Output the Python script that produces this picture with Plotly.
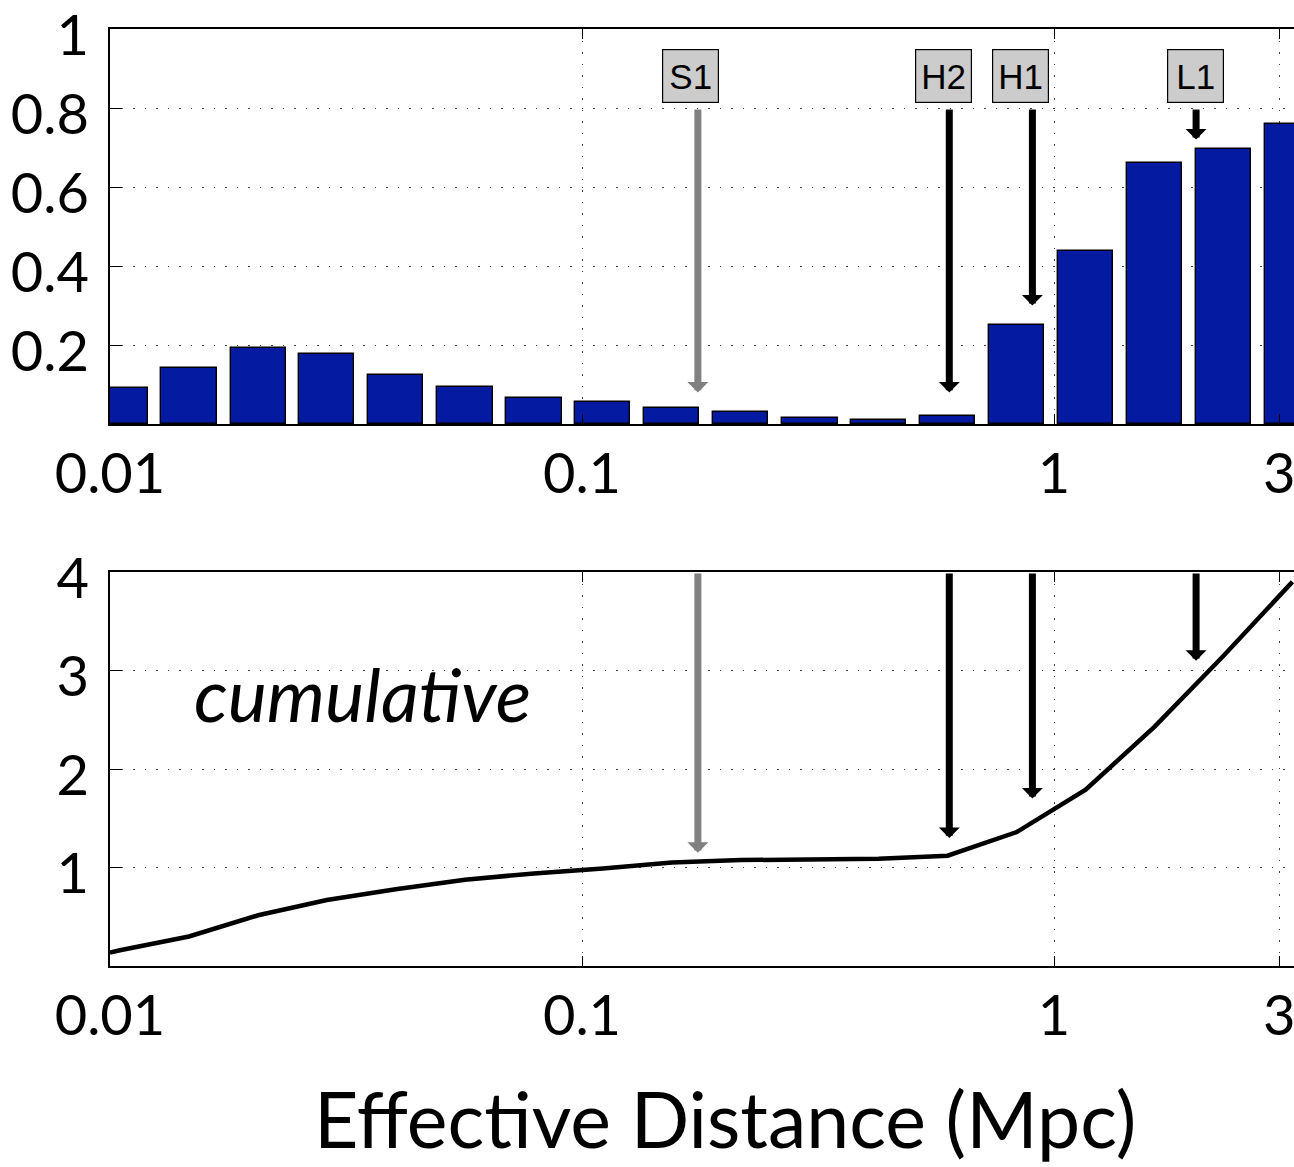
import numpy as np
import plotly.graph_objects as go

# ---------------- data ----------------
bin_center_mpc = [0.0105, 0.0147, 0.0206, 0.0288, 0.0403, 0.0565, 0.0791, 0.1107, 0.155,
                  0.217, 0.304, 0.425, 0.595, 0.834, 1.167, 1.634, 2.287, 3.20]
fraction = [0.090, 0.141, 0.192, 0.178, 0.125, 0.094, 0.065, 0.056, 0.040,
            0.030, 0.015, 0.009, 0.021, 0.250, 0.438, 0.661, 0.696, 0.759]

line_dist_mpc = [0.0100] + bin_center_mpc
cumulative = [0.136, 0.16, 0.30, 0.515, 0.67, 0.78, 0.875, 0.94, 0.99, 1.05,
              1.075, 1.085, 1.09, 1.12, 1.36, 1.79, 2.43, 3.15, 3.90]

det_names = ["S1", "H2", "H1", "L1"]
det_dist_mpc = [0.176, 0.60, 0.90, 2.0]
det_label_mpc = [0.170, 0.583, 0.851, 1.99]
det_colors = ["#808080", "#000000", "#000000", "#000000"]
top_arrow_start = 0.8
top_arrow_tip = [0.08, 0.08, 0.30, 0.72]
bottom_arrow_start = 4.0
bottom_arrow_tip = [1.15, 1.30, 1.70, 3.10]
label_y = 0.882

x_tick_vals = [0.01, 0.1, 1, 3]
x_tick_text = ["0.01", "0.1", "1", "3"]
top_y_ticks = [0.2, 0.4, 0.6, 0.8, 1.0]
top_y_text = ["0.2", "0.4", "0.6", "0.8", "1"]
bottom_y_ticks = [1, 2, 3, 4]
bottom_y_text = ["1", "2", "3", "4"]

x_label = "Effective Distance (Mpc)"
inset_label = "cumulative"

# ---------------- figure ----------------
W, H = 1294, 1167
lx = np.log10(bin_center_mpc)
step = float(np.median(np.diff(lx)))

fig = go.Figure()
fig.add_trace(go.Bar(
    x=lx, y=fraction, width=0.8 * step,
    marker=dict(color="#041aa0", line=dict(color="black", width=1.4)),
    xaxis="x", yaxis="y", showlegend=False, hoverinfo="skip"))
fig.add_trace(go.Scatter(
    x=np.log10(line_dist_mpc), y=cumulative, mode="lines",
    line=dict(color="black", width=4.5),
    xaxis="x2", yaxis="y2", showlegend=False, hoverinfo="skip"))

FONT = "Lato"
TICKFONT = dict(family=FONT, size=56, color="black")
xdom = [110 / W, 1.0]
top_dom = [1 - 424 / H, 1 - 29 / H]
bot_dom = [1 - 966 / H, 1 - 572 / H]
xr = [-2.0, -2.0 + (W - 110) / 472.0]

grid = dict(showgrid=True, gridcolor="#444444", gridwidth=1.2, griddash="1.5px,10px")
common_x = dict(domain=xdom, range=xr, tickmode="array",
                tickvals=list(np.log10(x_tick_vals)), ticktext=x_tick_text,
                ticks="inside", ticklen=10, tickwidth=1.2, tickcolor="black",
                showline=True, linecolor="black", linewidth=1.6, mirror="ticks",
                zeroline=False, tickfont=TICKFONT, ticklabelstandoff=0,
                ticklabeloverflow="allow", **grid)
common_y = dict(ticks="inside", ticklen=12, tickwidth=1.2, tickcolor="black",
                showline=True, linecolor="black", linewidth=1.6, mirror=False,
                zeroline=False, tickfont=TICKFONT, ticklabelstandoff=8,
                ticklabelshift=6, ticklabeloverflow="allow", **grid)

fig.update_layout(
    width=W, height=H,
    margin=dict(l=0, r=0, t=0, b=0, autoexpand=False),
    paper_bgcolor="white", plot_bgcolor="white",
    font=dict(family=FONT, color="black"),
    bargap=0,
    xaxis=dict(anchor="y", **common_x),
    xaxis2=dict(anchor="y2", **common_x),
    yaxis=dict(anchor="x", domain=top_dom, range=[0, 1], tickmode="array",
               tickvals=top_y_ticks, ticktext=top_y_text, **common_y),
    yaxis2=dict(anchor="x2", domain=bot_dom, range=[0, 4], tickmode="array",
                tickvals=bottom_y_ticks, ticktext=bottom_y_text, **common_y),
)

ann = []
for name, d, dl, c, tt, bt in zip(det_names, det_dist_mpc, det_label_mpc, det_colors,
                                  top_arrow_tip, bottom_arrow_tip):
    xd = float(np.log10(d))
    ann.append(dict(xref="x", yref="y", axref="x", ayref="y",
                    x=xd, y=tt, ax=xd, ay=top_arrow_start, text="",
                    showarrow=True, arrowhead=1, arrowsize=0.5, arrowwidth=7,
                    arrowcolor=c, standoff=0, startstandoff=0))
    ann.append(dict(xref="x2", yref="y2", axref="x2", ayref="y2",
                    x=xd, y=bt, ax=xd, ay=bottom_arrow_start, text="",
                    showarrow=True, arrowhead=1, arrowsize=0.5, arrowwidth=7,
                    arrowcolor=c, standoff=0, startstandoff=0))
    ann.append(dict(xref="x", yref="y", x=float(np.log10(dl)), y=label_y,
                    text=name, showarrow=False, bgcolor="#cccccc",
                    bordercolor="black", borderwidth=1.2, borderpad=0,
                    width=55, height=52,
                    font=dict(family="Liberation Sans", size=35, color="black")))

ann.append(dict(xref="x2 domain", yref="y2 domain", x=(192 - 110) / (W - 110),
                y=(966 - 693) / 394, xanchor="left", yanchor="middle",
                text="<i>" + inset_label + "</i>", showarrow=False,
                font=dict(family=FONT, size=74, color="black")))
ann.append(dict(xref="paper", yref="paper", x=725 / W, y=1 - 1118 / H,
                xanchor="center", yanchor="middle", text=x_label, showarrow=False,
                font=dict(family=FONT, size=77, color="black")))
fig.update_layout(annotations=ann)

fig.write_html("out.html")
